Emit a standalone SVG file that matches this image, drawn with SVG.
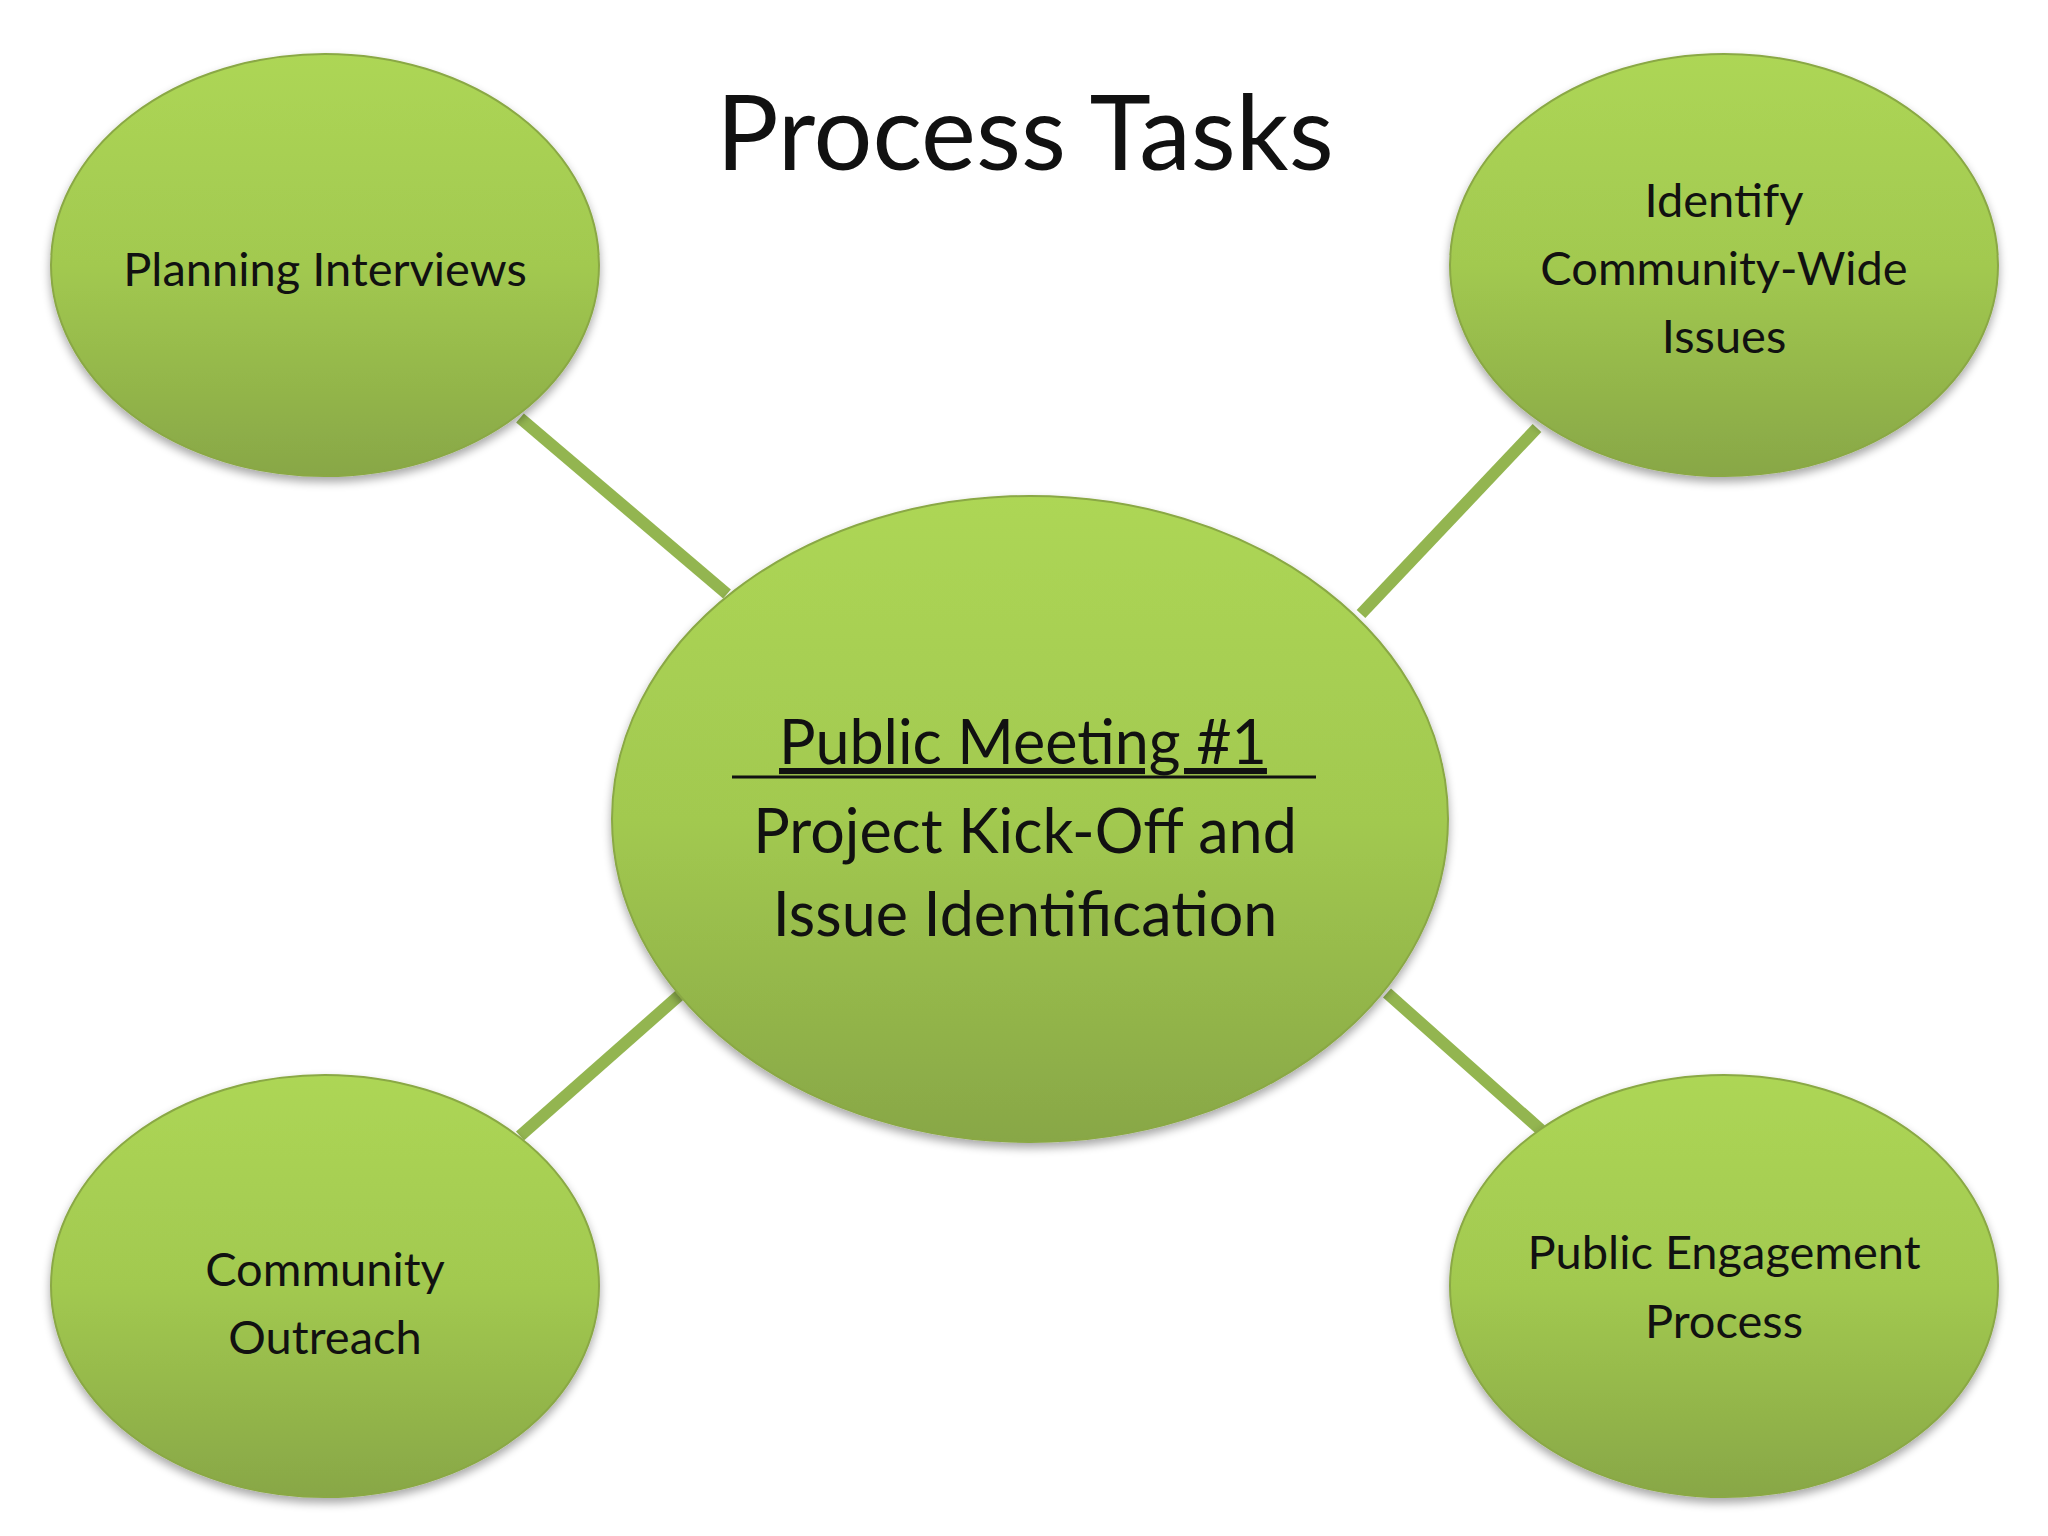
<svg xmlns="http://www.w3.org/2000/svg" width="2048" height="1536" viewBox="0 0 2048 1536">
<style>
.n{fill:url(#g);stroke:#8aa845;stroke-width:2;filter:url(#sh)}
.t{font-family:Lato,"Open Sans","DejaVu Sans",sans-serif;fill:#111;text-anchor:middle}
.s{font-size:47px}
.c{font-size:61px}
.cn line{stroke:#93b550;stroke-width:12}
</style>
<defs>
<linearGradient id="g" x1="0" y1="0" x2="0" y2="1">
<stop offset="0" stop-color="#add655"/><stop offset="0.5" stop-color="#a2c950"/><stop offset="1" stop-color="#88a746"/>
</linearGradient>
<filter id="sh" x="-10%" y="-10%" width="120%" height="125%">
<feGaussianBlur in="SourceAlpha" stdDeviation="5"/><feOffset dy="5"/>
<feComponentTransfer><feFuncA type="linear" slope="0.35"/></feComponentTransfer>
<feMerge><feMergeNode/><feMergeNode in="SourceGraphic"/></feMerge>
</filter>
</defs>
<rect width="2048" height="1536" fill="#fff"/>
<text class="t" x="1025" y="170" font-size="104">Process Tasks</text>
<g class="cn" id="connectors">
<line x1="520" y1="418" x2="727" y2="594"/>
<line x1="1537" y1="428" x2="1361" y2="614"/>
<line x1="682" y1="993" x2="520" y2="1136"/>
<line x1="1387" y1="993" x2="1541" y2="1130"/>
</g>
<g id="planning"><ellipse class="n" cx="325" cy="265" rx="274" ry="211"/>
<text class="t s" x="325" y="286">Planning Interviews</text></g>
<g id="identify"><ellipse class="n" cx="1724" cy="265" rx="274" ry="211"/>
<text class="t s" x="1724" y="217">Identify</text><text class="t s" x="1724" y="285">Community-Wide</text><text class="t s" x="1724" y="353">Issues</text></g>
<g id="outreach"><ellipse class="n" cx="325" cy="1286" rx="274" ry="211"/>
<text class="t s" x="325" y="1286">Community</text><text class="t s" x="325" y="1354">Outreach</text></g>
<g id="engagement"><ellipse class="n" cx="1724" cy="1286" rx="274" ry="211"/>
<text class="t s" x="1724" y="1269">Public Engagement</text><text class="t s" x="1724" y="1338">Process</text></g>
<g id="center"><ellipse class="n" cx="1030" cy="819" rx="418" ry="323"/>
<text class="t c" x="1023" y="764" text-decoration="underline">Public Meeting #1</text>
<line x1="732" y1="777" x2="1316" y2="777" stroke="#111" stroke-width="3"/>
<text class="t c" x="1025" y="853">Project Kick-Off and</text>
<text class="t c" x="1025" y="936">Issue Identification</text></g>
</svg>
